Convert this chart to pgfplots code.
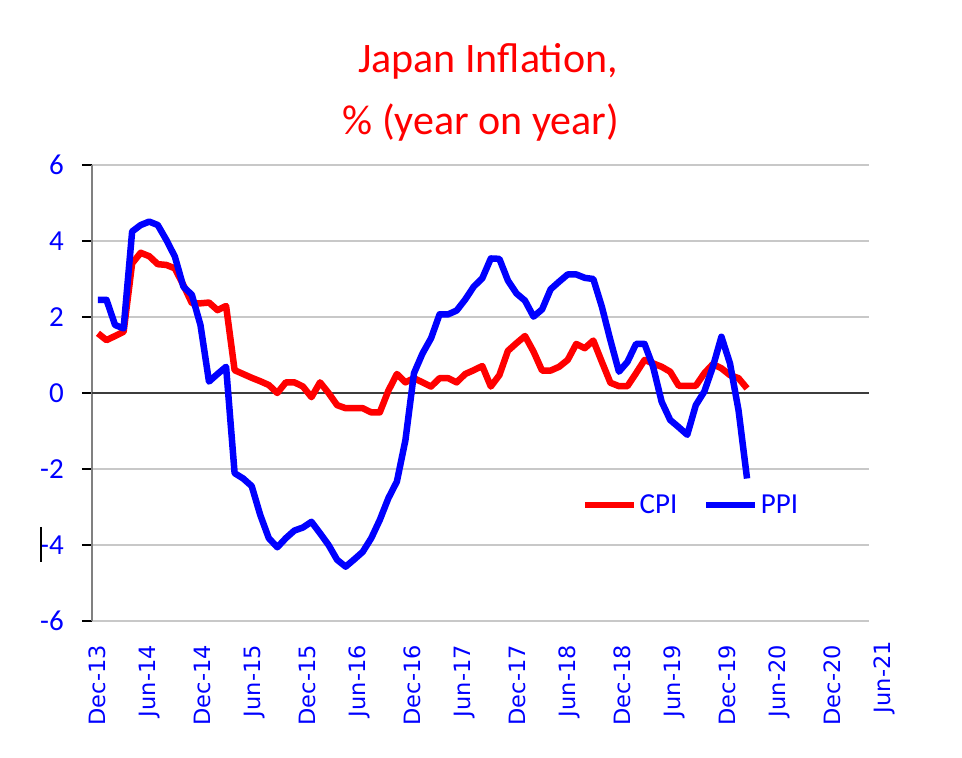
\documentclass[border=0pt]{standalone}
\usepackage{pgfplots}
\pgfplotsset{compat=1.18}
\usepackage{pgfplotstable}
\usepackage{fontspec}
\setmainfont{Carlito}
\newfontfamily\dejavu{DejaVu Sans}
\definecolor{xlred}{RGB}{255,0,0}
\definecolor{xlblue}{RGB}{0,0,255}
\definecolor{gridgray}{RGB}{200,200,200}
\definecolor{axisgray}{RGB}{128,128,128}
\definecolor{zerogray}{RGB}{60,60,60}

% month index: 0 = Dec-13 ... 76 = Apr-20
\pgfplotstableread{
m v
0 1.57
1 1.39
2 1.50
3 1.61
4 3.41
5 3.69
6 3.60
7 3.39
8 3.37
9 3.28
10 2.84
11 2.36
12 2.36
13 2.38
14 2.18
15 2.29
16 0.60
17 0.50
18 0.40
19 0.31
20 0.21
21 0.00
22 0.28
23 0.28
24 0.17
25 -0.11
26 0.28
27 0.00
28 -0.32
29 -0.40
30 -0.40
31 -0.40
32 -0.51
33 -0.51
34 0.06
35 0.50
36 0.28
37 0.39
38 0.28
39 0.17
40 0.39
41 0.39
42 0.28
43 0.50
44 0.60
45 0.71
46 0.17
47 0.47
48 1.11
49 1.31
50 1.50
51 1.09
52 0.59
53 0.59
54 0.69
55 0.87
56 1.29
57 1.18
58 1.38
59 0.82
60 0.27
61 0.18
62 0.18
63 0.52
64 0.87
65 0.78
66 0.69
67 0.56
68 0.19
69 0.19
70 0.19
71 0.52
72 0.76
73 0.65
74 0.47
75 0.39
76 0.12
}\cpi

\pgfplotstableread{
m v
0 2.45
1 2.45
2 1.79
3 1.70
4 4.25
5 4.42
6 4.51
7 4.42
8 4.03
9 3.59
10 2.80
11 2.58
12 1.79
13 0.30
14 0.50
15 0.69
16 -2.11
17 -2.25
18 -2.45
19 -3.21
20 -3.82
21 -4.06
22 -3.82
23 -3.62
24 -3.54
25 -3.39
26 -3.69
27 -4.00
28 -4.39
29 -4.57
30 -4.38
31 -4.18
32 -3.82
33 -3.34
34 -2.77
35 -2.33
36 -1.24
37 0.52
38 1.04
39 1.44
40 2.07
41 2.07
42 2.17
43 2.46
44 2.80
45 3.02
46 3.54
47 3.53
48 2.96
49 2.62
50 2.43
51 2.01
52 2.20
53 2.73
54 2.93
55 3.12
56 3.12
57 3.03
58 3.00
59 2.27
60 1.39
61 0.56
62 0.82
63 1.29
64 1.29
65 0.69
66 -0.23
67 -0.71
68 -0.90
69 -1.10
70 -0.32
71 0.04
72 0.69
73 1.48
74 0.78
75 -0.45
76 -2.25
}\ppi

\begin{document}
\begin{tikzpicture}
\useasboundingbox (0pt,0pt) rectangle (962pt,758pt);
\begin{axis}[
  at={(92pt,137pt)}, anchor=south west,
  width=777pt, height=456pt, scale only axis,
  xmin=-0.70, xmax=90.28, ymin=-6, ymax=6,
  clip=false,
  axis line style={draw=none},
  xtick={-0.117,6.0305,12.178,18.3255,24.473,30.6205,36.768,42.9155,49.063,55.2105,61.358,67.5055,73.653,79.8005,85.948},
  xticklabels={Dec-13,Jun-14,Dec-14,Jun-15,Dec-15,Jun-16,Dec-16,Jun-17,Dec-17,Jun-18,Dec-18,Jun-19,Dec-19,Jun-20,Dec-20},
  xtick style={draw=none},
  xtick pos=bottom,
  xticklabel style={rotate=90, anchor=east, inner sep=0pt, text=xlblue, font=\dejavu\fontsize{22.5}{27}\selectfont},
  xticklabel shift=14pt,
  ytick={-6,-4,-2,0,2,4,6},
  yticklabels={-6,-4,-2,0,2,4,6},
  ytick pos=left,
  tick align=outside,
  major tick length=10pt,
  ytick style={black, line width=1.2pt},
  yticklabel style={inner sep=0pt, text=xlblue, font=\fontsize{29}{34}\selectfont},
  yticklabel shift=18pt,
  ymajorgrids,
  grid style={gridgray, line width=1.3pt},
  legend columns=2,
  legend style={draw=none, fill=none, at={(0.771,0.254)}, anchor=center,
    font=\fontsize{29}{34}\selectfont, text=xlblue,
    /tikz/every even column/.append style={column sep=23pt},
    nodes={inner sep=2.5pt}},
  legend image code/.code={\draw[#1] (0pt,0pt) -- (49pt,0pt);},
]
\draw[axisgray, line width=1.5pt] (rel axis cs:0,0) -- (rel axis cs:0,1);
\draw[zerogray, line width=1.5pt] (rel axis cs:0,0.5) -- (rel axis cs:1,0.5);
\addplot[xlred, line width=6.5pt, line join=round, mark=none] table[x=m, y=v] {\cpi};
\addlegendentry{CPI}
\addplot[xlblue, line width=6.5pt, line join=round, mark=none] table[x=m, y=v] {\ppi};
\addlegendentry{PPI}
\node[rotate=90, anchor=east, inner sep=0pt, text=xlblue, font=\dejavu\fontsize{22.5}{27}\selectfont] at ([yshift=-20pt]axis cs:92.0955,-6) {Jun-21};
\end{axis}
\node[anchor=base, text=xlred, font=\fontsize{42}{48}\selectfont] at (488pt,685pt) {Japan Inflation,};
\node[anchor=base, text=xlred, font=\fontsize{42}{48}\selectfont] at (481pt,623pt) {\% (year on year)};
\draw[black, line width=2pt] (41pt,231pt) -- (41pt,196pt);
\end{tikzpicture}
\end{document}
